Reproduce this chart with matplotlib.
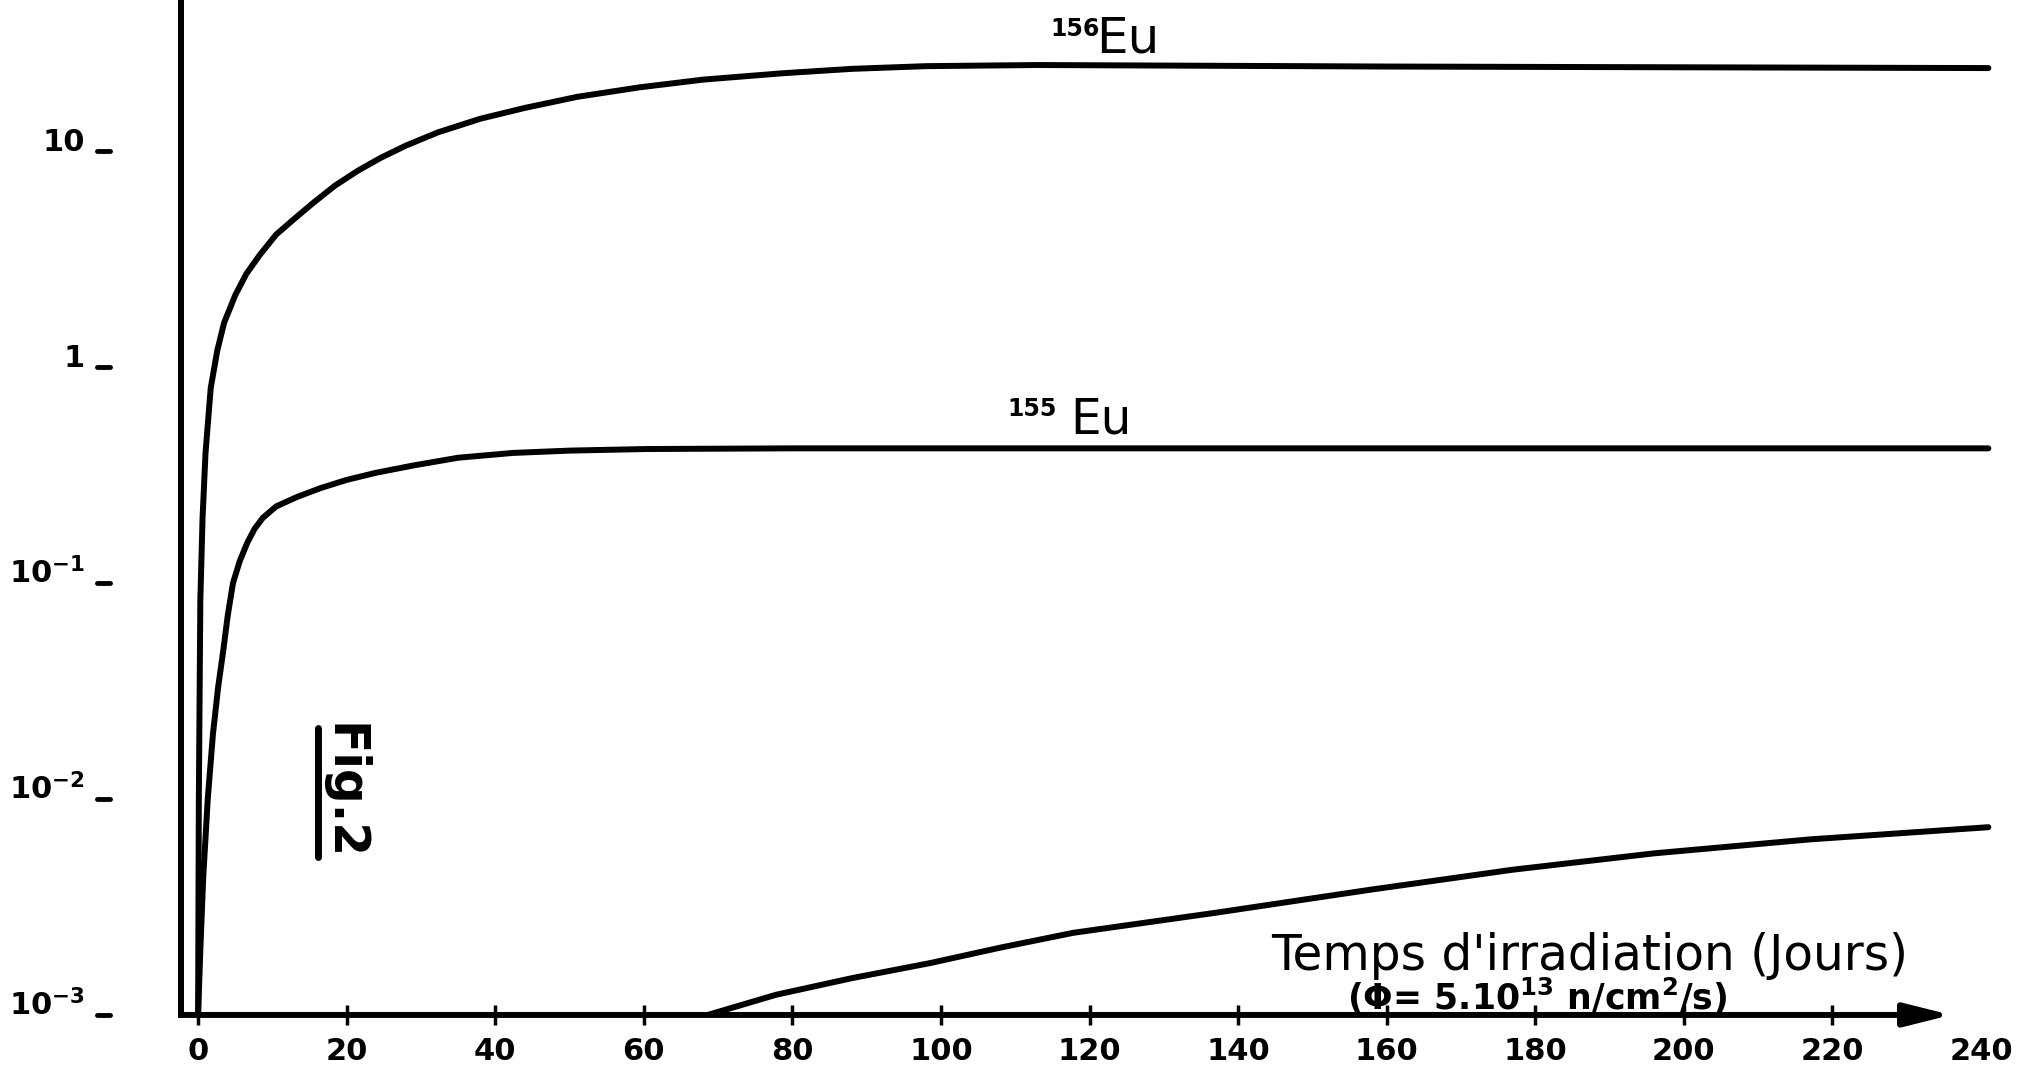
import matplotlib
matplotlib.use('Agg')
import matplotlib.pyplot as plt
from matplotlib.ticker import NullLocator

# values (x = days, y = log scale)
eu156_x = [0, 0.1, 0.3, 0.6, 1.0, 1.7, 2.6, 3.5, 5.0, 6.5, 8.3, 10.5, 13.1, 15.5, 18.4, 21.5,
           24.6, 28, 32.3, 38, 43.9, 51, 59.4, 68, 78.7, 88, 98, 113, 160, 241]
eu156_y = [1e-3, 0.01, 0.083, 0.2, 0.40, 0.8, 1.2, 1.6, 2.15, 2.7, 3.3, 4.1, 4.9, 5.75, 6.9, 8.1,
           9.3, 10.6, 12.2, 14.1, 15.8, 17.8, 19.7, 21.4, 22.9, 24.0, 24.7, 25.0, 24.6, 24.2]

eu155_x = [0, 0.3, 0.7, 1.3, 2.0, 2.7, 3.4, 4.0, 4.7, 5.6, 6.6, 7.6, 8.7, 10.5, 13.3, 16.5,
           20, 24, 29, 35, 42.4, 50, 60.4, 80, 241]
eu155_y = [1e-3, 2e-3, 0.0044, 0.01, 0.020, 0.033, 0.049, 0.071, 0.1, 0.126, 0.153, 0.178, 0.20,
           0.226, 0.25, 0.275, 0.30, 0.324, 0.35, 0.38, 0.40, 0.41, 0.417, 0.42, 0.42]

low_x = [68.6, 77.8, 88, 98.6, 108, 117.8, 136.9, 157.8, 176.9, 196, 217, 241]
low_y = [1e-3, 1.24e-3, 1.48e-3, 1.74e-3, 2.05e-3, 2.4e-3, 2.97e-3, 3.8e-3, 4.7e-3, 5.6e-3,
         6.5e-3, 7.4e-3]

xticks = [0, 20, 40, 60, 80, 100, 120, 140, 160, 180, 200, 220, 240]
yticks = [1e-3, 1e-2, 1e-1, 1, 10]
ytick_labels = [r'10$^{-3}$', r'10$^{-2}$', r'10$^{-1}$', '1', '10']

plt.rcParams['font.family'] = ['DejaVu Sans']
plt.rcParams['mathtext.default'] = 'bf'

fig = plt.figure(figsize=(20.27, 10.73), dpi=100)
ax = fig.add_axes([0.0893, 0.0541, 0.9063, 0.9459])
ax.set_yscale('log')
ax.set_xlim(-2.3, 245)
ax.set_ylim(1e-3, 50)

lw = 4.3
for xs, ys in [(eu156_x, eu156_y), (eu155_x, eu155_y), (low_x, low_y)]:
    ax.plot(xs, ys, color='black', lw=lw, solid_capstyle='round', solid_joinstyle='round')

# axes: left spine only, x axis drawn as an arrow
for s in ['top', 'right', 'bottom']:
    ax.spines[s].set_visible(False)
ax.spines['left'].set_linewidth(lw)
ax.annotate('', xy=(236, 1e-3), xycoords='data',
            xytext=(0, 0), textcoords='axes fraction',
            arrowprops=dict(arrowstyle='-|>,head_length=1.4,head_width=0.35',
                            lw=lw, color='black', shrinkA=0, shrinkB=0,
                            mutation_scale=20))

# x ticks
ax.set_xticks(xticks)
ax.set_xticklabels([str(v) for v in xticks], fontsize=22, fontweight='bold')
ax.tick_params(axis='x', direction='inout', length=14, width=2.5, pad=9)
ax.xaxis.get_major_ticks()[-1].tick1line.set_visible(False)

# y ticks: labels far left, short dashes detached from the axis
ax.yaxis.set_minor_locator(NullLocator())
ax.set_yticks(yticks)
ax.set_yticklabels(ytick_labels, fontsize=22, fontweight='bold')
ax.tick_params(axis='y', length=0, pad=69)
for lab in ax.get_yticklabels():
    lab.set_va('baseline')
ytrans = ax.get_yaxis_transform()
for v in yticks:
    ax.plot([-0.0457, -0.0387], [v, v], color='black', lw=3.5,
            transform=ytrans, clip_on=False, solid_capstyle='round')

# curve labels (mass number as small raised text)
ax.text(114.7, 34.0, '156', fontsize=17, fontweight='bold', ha='left', va='baseline')
ax.text(120.9, 28.7, 'Eu', fontsize=36, ha='left', va='baseline')
ax.text(109.0, 0.593, '155', fontsize=17, fontweight='bold', ha='left', va='baseline')
ax.text(117.4, 0.494, 'Eu', fontsize=35, ha='left', va='baseline')

# axis title
ax.text(187.3, 1.62e-3, "Temps d'irradiation (Jours)", fontsize=35,
        ha='center', va='baseline')
ax.text(180.3, 1.055e-3, r'($\Phi$= 5.10$^{13}$ n/cm$^{2}$/s)', fontsize=25,
        fontweight='bold', ha='center', va='baseline')

# "Fig.2" rotated with its underline
ax.text(19.6, 0.0108, 'Fig.2', fontsize=35, fontweight='bold', rotation=-90,
        ha='center', va='center')
ax.plot([0.0746, 0.0746], [0.156, 0.283], color='black', lw=5,
        transform=ax.transAxes, clip_on=False, solid_capstyle='round')

fig.savefig('out.png', dpi=100, facecolor='white')
